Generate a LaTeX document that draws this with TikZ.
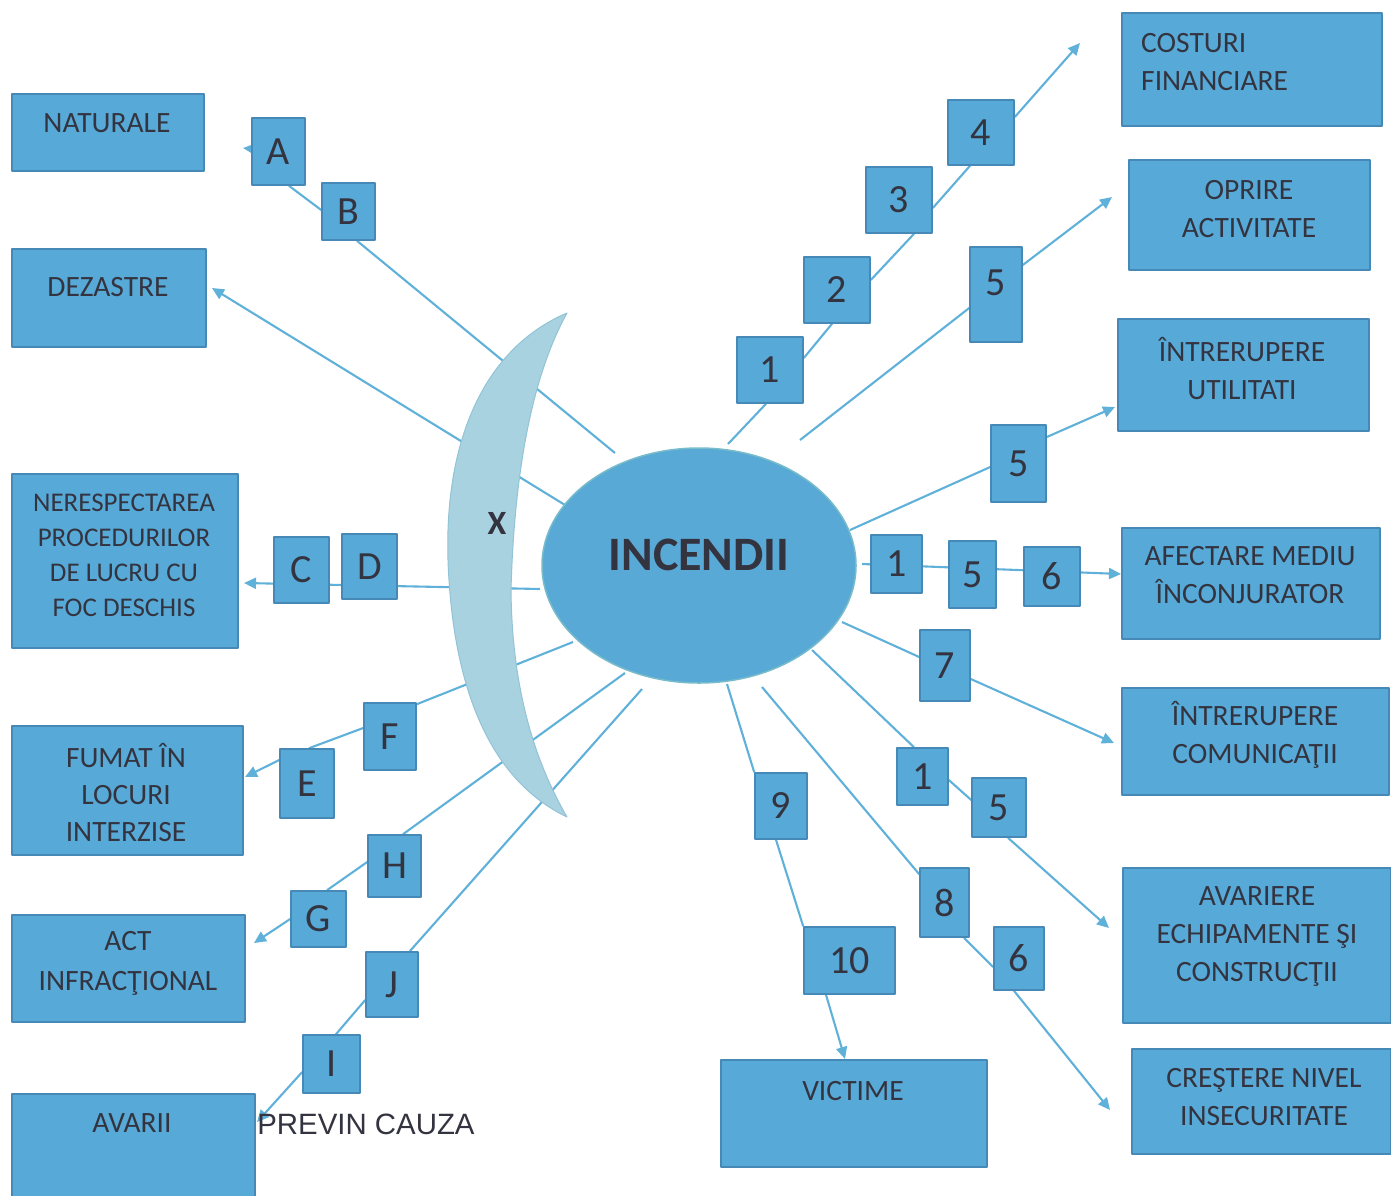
\documentclass[tikz,border=0pt]{standalone}
\usepackage{fontspec}
\setmainfont{Carlito}
\newfontfamily\arialf{Liberation Sans}
\usetikzlibrary{arrows.meta,shapes.geometric,backgrounds}
\definecolor{boxfill}{HTML}{57AAD8}
\definecolor{boxline}{HTML}{4789B6}
\definecolor{ellfill}{HTML}{58A9D6}
\definecolor{ellline}{HTML}{78BCCB}
\definecolor{lnc}{HTML}{60B1DA}
\definecolor{cresc}{HTML}{A9D2E1}
\definecolor{crescline}{HTML}{92C3D6}
\definecolor{txt}{HTML}{343440}
\begin{document}
\begin{tikzpicture}[x=1pt,y=-1pt,line join=round,
  bigbox/.style={draw=boxline,fill=boxfill,line width=1.6pt,inner sep=0pt,anchor=north west},
  sbox/.style={draw=boxline,fill=boxfill,line width=1.6pt,inner sep=0pt,text=txt,font=\fontsize{40}{42}\selectfont},
  btxt/.style={text=txt,font=\fontsize{29.5}{38}\selectfont,align=center,inner sep=0pt},
  ln/.style={draw=lnc,line width=2.1pt},
  arr/.style={ln,-{Triangle[length=12pt,width=11pt]}}]
\useasboundingbox (0,0) rectangle (1391,1195);
\clip (0,0) rectangle (1391,1195);

% crescent
\path[fill=cresc,draw=crescline,line width=1pt]
  (567,313) .. controls (480,350) and (440,450) .. (449,580)
  .. controls (456,690) and (490,780) .. (567,817)
  .. controls (540,770) and (512,700) .. (511,590)
  .. controls (514,480) and (530,380) .. (567,313) -- cycle;
\node[text=txt,font=\bfseries\fontsize{34}{36}\selectfont,inner sep=0pt] (xT) at (497,523) {X};

% central ellipse
\node[ellipse,draw=ellline,fill=ellfill,line width=1.5pt,minimum width=314pt,minimum height=235pt,inner sep=0pt] (inc) at (699,565.5) {};
\node[text=txt,font=\bfseries\fontsize{48}{50}\selectfont,inner sep=0pt] (incT) at (699,555) {INCENDII};

% left big boxes
\node[bigbox,minimum width=192pt,minimum height=77pt] (nat) at (11,93) {};
\node[bigbox,minimum width=194pt,minimum height=98pt] (dez) at (11,248) {};
\node[bigbox,minimum width=226pt,minimum height=174pt] (ner) at (11,473) {};
\node[bigbox,minimum width=231pt,minimum height=129pt] (fum) at (11,725) {};
\node[bigbox,minimum width=233pt,minimum height=107pt] (act) at (11,914) {};
\node[bigbox,minimum width=243pt,minimum height=120pt] (ava) at (11,1093) {};
% right big boxes
\node[bigbox,minimum width=260pt,minimum height=113pt] (cos) at (1121,12) {};
\node[bigbox,minimum width=241pt,minimum height=110pt] (opr) at (1128,159) {};
\node[bigbox,minimum width=251pt,minimum height=112pt] (utl) at (1117,318) {};
\node[bigbox,minimum width=258pt,minimum height=111pt] (afe) at (1121,527) {};
\node[bigbox,minimum width=267pt,minimum height=107pt] (com) at (1121,687) {};
\node[bigbox,minimum width=268pt,minimum height=155pt] (ave) at (1122,867) {};
\node[bigbox,minimum width=259pt,minimum height=105pt] (cre) at (1131,1048) {};
\node[bigbox,minimum width=266pt,minimum height=107pt] (vic) at (720,1059) {};

% texts of big boxes
\node[btxt] (natT) at (107,123) {NATURALE};
\node[btxt] (dezT) at (108,287) {DEZASTRE};
\node[btxt,font=\fontsize{27}{35}\selectfont] (nerT) at (124,555) {NERESPECTAREA\\PROCEDURILOR\\DE LUCRU CU\\FOC DESCHIS};
\node[btxt,font=\fontsize{29.5}{37}\selectfont] (fumT) at (126,793) {FUMAT ÎN\\LOCURI\\INTERZISE};
\node[btxt,font=\fontsize{29.5}{40}\selectfont] (actT) at (128,963) {ACT\\INFRACŢIONAL};
\node[btxt] (avaT) at (132,1123) {AVARII};
\node[btxt,align=left,anchor=west] (cosT) at (1141,62) {COSTURI\\FINANCIARE};
\node[btxt] (oprT) at (1249,209) {OPRIRE\\ACTIVITATE};
\node[btxt] (utlT) at (1242,369) {ÎNTRERUPERE\\UTILITATI};
\node[btxt] (afeT) at (1250,575) {AFECTARE MEDIU\\ÎNCONJURATOR};
\node[btxt] (comT) at (1255,735) {ÎNTRERUPERE\\COMUNICAŢII};
\node[btxt] (aveT) at (1257,936) {AVARIERE\\ECHIPAMENTE ŞI\\CONSTRUCŢII};
\node[btxt] (creT) at (1264,1097) {CREŞTERE NIVEL\\INSECURITATE};
\node[btxt] (vicT) at (853,1091) {VICTIME};
\node[text=txt,font=\arialf\fontsize{29.4}{31}\selectfont,inner sep=0pt] (prev) at (366,1124) {PREVIN CAUZA};

% small letter boxes
\node[sbox,minimum width=53pt,minimum height=67pt] (A) at (278.5,151.5) {A};
\node[sbox,minimum width=53pt,minimum height=57pt] (B) at (348.5,211.5) {B};
\node[sbox,minimum width=55pt,minimum height=66pt] (C) at (301.5,570) {C};
\node[sbox,minimum width=55pt,minimum height=65pt] (D) at (369.5,566.5) {D};
\node[sbox,minimum width=52pt,minimum height=67pt] (F) at (390,736.5) {F};
\node[sbox,minimum width=54pt,minimum height=69pt] (E) at (307,783.5) {E};
\node[sbox,minimum width=53pt,minimum height=62pt] (H) at (394.5,866) {H};
\node[sbox,minimum width=55pt,minimum height=56pt] (G) at (318.5,919) {G};
\node[sbox,minimum width=52pt,minimum height=65pt] (J) at (392,984.5) {J};
\node[sbox,minimum width=57pt,minimum height=58pt] (I) at (331.5,1064) {I};
% small number boxes
\node[sbox,minimum width=66pt,minimum height=66pt] (n1a) at (770,370) {1};
\node[sbox,minimum width=66pt,minimum height=66pt] (n2) at (837,290) {2};
\node[sbox,minimum width=66pt,minimum height=66pt] (n3) at (899,200) {3};
\node[sbox,minimum width=66pt,minimum height=65pt] (n4) at (981,132.5) {4};
\node[sbox,minimum width=52pt,minimum height=95pt] (n5a) at (996,294.5) {\raisebox{24pt}{5}};
\node[sbox,minimum width=55pt,minimum height=77pt] (n5b) at (1018.5,463.5) {5};
\node[sbox,minimum width=51pt,minimum height=58pt] (n1b) at (896.5,564) {1};
\node[sbox,minimum width=47pt,minimum height=67pt] (n5c) at (972.5,574.5) {5};
\node[sbox,minimum width=56pt,minimum height=59pt] (n6a) at (1052,576.5) {6};
\node[sbox,minimum width=50pt,minimum height=71pt] (n7) at (945,665.5) {7};
\node[sbox,minimum width=51pt,minimum height=57pt] (n1c) at (922.5,776.5) {1};
\node[sbox,minimum width=54pt,minimum height=59pt] (n5d) at (999,807.5) {5};
\node[sbox,minimum width=52pt,minimum height=66pt] (n9) at (781,806) {9};
\node[sbox,minimum width=49pt,minimum height=69pt] (n8) at (944.5,902.5) {8};
\node[sbox,minimum width=50pt,minimum height=63pt] (n6b) at (1019,958.5) {6};
\node[sbox,minimum width=91pt,minimum height=67pt] (n10) at (849.5,960.5) {10};

% connector end points
\coordinate (eAB) at (615,453);
\coordinate (eDez) at (565,505);
\coordinate (eCD) at (540,589);
\coordinate (eF) at (573,642);
\coordinate (eH) at (625,673);
\coordinate (eJ) at (642,689);
\coordinate (e1a) at (728,444);
\coordinate (e5a) at (800,440);
\coordinate (e5b) at (850,530);
\coordinate (eMid) at (862,564);
\coordinate (e7) at (842,622);
\coordinate (e1c) at (812,650);
\coordinate (e8) at (762,687);
\coordinate (e9) at (727,684);
\coordinate (tNat) at (243,148);
\coordinate (tDez) at (212,288);
\coordinate (tCD) at (244,583);
\coordinate (tFum) at (245,777);
\coordinate (tAct) at (254,943);
\coordinate (tAva) at (257,1122);
\coordinate (tCos) at (1080,43);
\coordinate (tOpr) at (1112,197);
\coordinate (tUtl) at (1115,407);
\coordinate (tAfe) at (1121,574);
\coordinate (tCom) at (1114,743);
\coordinate (tAve) at (1109,928);
\coordinate (tCre) at (1110,1110);
\coordinate (tVic) at (845,1059);

\begin{pgfonlayer}{background}
\fill[white] (0,0) rectangle (1391,1195);
% left side
\draw[ln] (eAB) -- ([xshift=8.5pt]B.south);
\draw[ln] ([xshift=10.5pt]A.south) -- ([yshift=1.5pt]B.west);
\draw[arr] (A) -- (tNat);
\draw[arr] (eDez) -- (tDez);
\draw[arr] (eCD) -- (tCD);
\draw[ln] (eF) -- ([yshift=-2pt]F.north east);
\draw[ln] ([yshift=8.5pt]F.west) -- ([xshift=2pt]E.north);
\draw[arr] ([yshift=23.5pt]E.west) -- (tFum);
\draw[ln] (eH) -- ([xshift=8.5pt]H.north);
\draw[ln] ([yshift=4pt]H.west) -- ([xshift=8.5pt]G.north);
\draw[arr] (G.west) -- (tAct);
\draw[ln] (eJ) -- ([xshift=-9pt]J.north east);
\draw[ln] ([yshift=-15.5pt]J.west) -- ([xshift=4.5pt]I.north);
\draw[arr] ([yshift=-8pt]I.west) -- (tAva);
% right side
\draw[ln] (e1a) -- ([xshift=-4pt]n1a.south);
\draw[ln] ([yshift=12pt]n1a.east) -- ([xshift=-5pt]n2.south);
\draw[ln] ([yshift=10pt]n2.east) -- ([xshift=15pt]n3.south);
\draw[ln] ([yshift=-8pt]n3.east) -- ([xshift=-11pt]n4.south);
\draw[arr] ([yshift=15.5pt]n4.east) -- (tCos);
\draw[ln] (e5a) -- ([yshift=-13.5pt]n5a.west);
\draw[arr] ([yshift=29.5pt]n5a.east) -- (tOpr);
\draw[ln] (e5b) -- ([yshift=-3.5pt]n5b.west);
\draw[arr] ([yshift=26.5pt]n5b.east) -- (tUtl);
\draw[arr] (eMid) -- (tAfe);
\draw[ln] (e7) -- ([yshift=8.5pt]n7.west);
\draw[arr] ([yshift=-13.5pt]n7.east) -- (tCom);
\draw[ln] (e1c) -- ([xshift=-8.5pt]n1c.north);
\draw[ln] ([yshift=-3.5pt]n1c.east) -- ([yshift=7.5pt]n5d.west);
\draw[arr] ([xshift=9pt]n5d.south) -- (tAve);
\draw[ln] (e8) -- ([yshift=-7pt]n8.north west);
\draw[ln] ([xshift=19.5pt]n8.south) -- ([yshift=-8.5pt]n6b.west);
\draw[arr] ([xshift=-5pt]n6b.south) -- (tCre);
\draw[ln] (e9) -- (n9.north west);
\draw[ln] ([xshift=-5pt]n9.south) -- (n10.north west);
\draw[arr] ([xshift=-23.5pt]n10.south) -- (tVic);
\end{pgfonlayer}
\end{tikzpicture}
\end{document}
